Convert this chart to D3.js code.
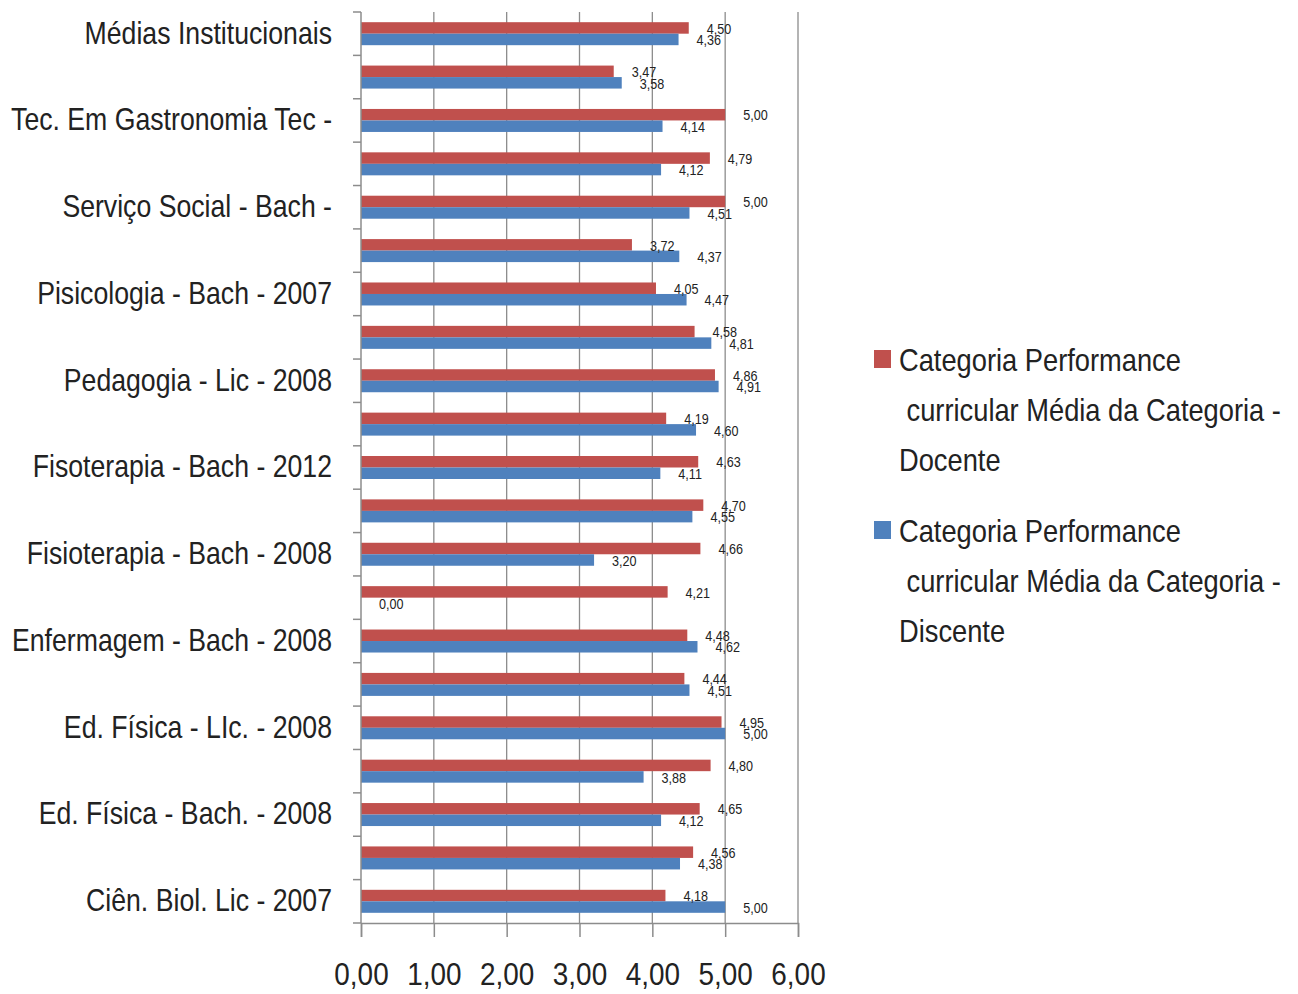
<!DOCTYPE html>
<html>
<head>
<meta charset="utf-8">
<script src="https://cdn.jsdelivr.net/npm/d3@7"></script>
<style>
  body { margin: 0; background: #fff; }
  text { font-family: "Liberation Sans", Arial, sans-serif; fill: #222; }
</style>
</head>
<body>
<div id="chart"></div>
<script>
// categories top -> bottom; only every other one has its label printed
const categories = [
  "Médias Institucionais", "", "Tec. Em Gastronomia Tec -", "", "Serviço Social - Bach -", "",
  "Pisicologia - Bach - 2007", "", "Pedagogia - Lic - 2008", "", "Fisoterapia - Bach - 2012", "",
  "Fisioterapia - Bach - 2008", "", "Enfermagem - Bach - 2008", "", "Ed. Física - LIc. - 2008", "",
  "Ed. Física - Bach. - 2008", "", "Ciên. Biol. Lic - 2007"
];
const docente  = [4.50, 3.47, 5.00, 4.79, 5.00, 3.72, 4.05, 4.58, 4.86, 4.19, 4.63, 4.70, 4.66, 4.21, 4.48, 4.44, 4.95, 4.80, 4.65, 4.56, 4.18];
const discente = [4.36, 3.58, 4.14, 4.12, 4.51, 4.37, 4.47, 4.81, 4.91, 4.60, 4.11, 4.55, 3.20, 0.00, 4.62, 4.51, 5.00, 3.88, 4.12, 4.38, 5.00];
const seriesNames = ["Categoria Performance curricular Média da Categoria - Docente",
                     "Categoria Performance curricular Média da Categoria - Discente"];
const xTicks = [0, 1, 2, 3, 4, 5, 6];

const W = 1298, H = 994;
const m = {left: 361, right: 500, top: 12, bottom: 71};
const width = W - m.left - m.right,
      height = H - m.top - m.bottom;
const colors = ["#C0504D", "#4F81BD"];
const fmt = v => d3.format(".2f")(v).replace(".", ",");

// narrow the glyphs horizontally (no condensed font installed)
function squeeze(sel, sx) {
    sel.each(function () {
        let t = d3.select(this);
        let x0 = +t.attr("x") || 0;
        t.attr("x", x0 / sx).attr("transform", "scale(" + sx + ",1)");
    });
}

let svg = d3.select("#chart").append("svg")
    .attr("width", W)
    .attr("height", H);

let vis = svg.append("g")
    .attr("transform", "translate(" + m.left + "," + m.top + ")");

let x = d3.scaleLinear().domain([0, 6]).range([0, width]);
let y = d3.scaleBand().domain(d3.range(categories.length)).range([0, height])
    .paddingInner(0.47).paddingOuter(0.235);
let inner = d3.scaleBand().domain([0, 1]).range([0, y.bandwidth()]);

// vertical gridlines
vis.selectAll(".grid").data(xTicks.slice(1)).enter().append("line")
    .attr("class", "grid")
    .attr("x1", d => x(d)).attr("x2", d => x(d))
    .attr("y1", 0).attr("y2", height)
    .attr("stroke", "#8c8c8c").attr("stroke-width", 1.3);

// bars
const rows = categories.map((c, i) => ({i: i, vals: [docente[i], discente[i]]}));
let grp = vis.selectAll(".row").data(rows).enter().append("g")
    .attr("class", "row")
    .attr("transform", d => "translate(0," + y(d.i) + ")");

grp.selectAll("rect").data(d => d.vals.map((v, k) => ({v: v, k: k}))).enter().append("rect")
    .attr("x", 0)
    .attr("y", d => inner(d.k))
    .attr("width", d => x(d.v))
    .attr("height", inner.bandwidth())
    .attr("fill", d => colors[d.k]);

grp.selectAll(".lbl").data(d => d.vals.map((v, k) => ({v: v, k: k}))).enter().append("text")
    .attr("class", "lbl")
    .attr("x", d => x(d.v) + 18)
    .attr("y", d => inner(d.k) + inner.bandwidth() / 2 + 2)
    .attr("dominant-baseline", "middle")
    .style("font-size", "14px")
    .text(d => fmt(d.v))
    .call(squeeze, 0.9);

// bottom axis
let xa = vis.append("g")
    .attr("transform", "translate(0," + height + ")")
    .call(d3.axisBottom(x).tickValues(xTicks).tickSize(14).tickPadding(26).tickFormat(fmt));
xa.select(".domain").attr("stroke", "#8c8c8c").attr("stroke-width", 1.5);
xa.selectAll(".tick line").attr("stroke", "#8c8c8c").attr("stroke-width", 1.5);
xa.selectAll(".tick text").style("font-size", "31px").attr("fill", "#222").call(squeeze, 0.9);

// left axis: labels at band centres, ticks at band boundaries
let ya = vis.append("g")
    .call(d3.axisLeft(y).tickSize(0).tickPadding(29).tickFormat(i => categories[i]));
ya.select(".domain").remove();
ya.selectAll(".tick text").style("font-size", "31px").attr("fill", "#222").call(squeeze, 0.86);

const step = y.step();
const bounds = d3.range(categories.length + 1).map(i => i === categories.length
    ? height
    : y(i) - step * y.paddingInner() / 2);
vis.selectAll(".ytick").data(bounds).enter().append("line")
    .attr("class", "ytick")
    .attr("x1", -8).attr("x2", 0)
    .attr("y1", d => d).attr("y2", d => d)
    .attr("stroke", "#8c8c8c").attr("stroke-width", 1.5);
vis.append("line")
    .attr("x1", 0).attr("x2", 0).attr("y1", 0).attr("y2", height)
    .attr("stroke", "#8c8c8c").attr("stroke-width", 1.5);

// legend
let legend = svg.append("g").attr("transform", "translate(874,350)");
seriesNames.forEach((name, k) => {
    let g = legend.append("g").attr("transform", "translate(0," + (k * 171) + ")");
    g.append("rect").attr("width", 17).attr("height", 18).attr("fill", colors[k]);
    const sx = 0.88;
    let t = g.append("text").style("font-size", "31px").attr("transform", "scale(" + sx + ",1)");
    const lines = ["Categoria Performance", " curricular Média da Categoria -", name.split(" - ")[1]];
    lines.forEach((ln, j) => {
        t.append("tspan")
            .attr("x", 25 / sx)
            .attr("y", 21 + j * 50)
            .style("white-space", "pre")
            .text(ln);
    });
});
</script>
</body>
</html>
